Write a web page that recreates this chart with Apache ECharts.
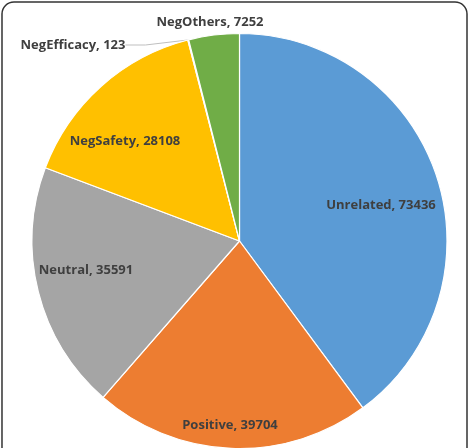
<!DOCTYPE html>
<html>
<head>
<meta charset="utf-8">
<style>
  html, body { margin: 0; padding: 0; background: #fff; }
  #chart { width: 469px; height: 448px; }
</style>
<script src="https://cdn.jsdelivr.net/npm/echarts@6/dist/echarts.min.js"></script>
</head>
<body>
<div id="chart"></div>
<script>
// categories and counts, clockwise from 12 o'clock
var categories = ['Unrelated', 'Positive', 'Neutral', 'NegSafety', 'NegEfficacy', 'NegOthers'];
var counts = [73436, 39704, 35591, 28108, 123, 7252];
var colors = ['#5b9bd5', '#ed7d31', '#a5a5a5', '#ffc000', '#4472c4', '#70ad47'];

// label anchor positions (layout only)
var labelPos = [
    { x: 381, y: 205 },
    { x: 230, y: 425 },
    { x: 86, y: 270 },
    { x: 125, y: 141 },
    { x: 73, y: 45 },
    { x: 210, y: 22 }
];

var chart = echarts.init(document.getElementById('chart'));
chart.setOption({
    animation: false,
    graphic: [{
        type: 'rect',
        shape: { x: 2, y: 2, width: 465, height: 480, r: 12 },
        style: { fill: 'none', stroke: '#333', lineWidth: 1.5 },
        z: 100
    }],
    series: [{
        type: 'pie',
        center: [239.5, 241],
        radius: 207.5,
        startAngle: 90,
        clockwise: true,
        avoidLabelOverlap: false,
        itemStyle: { borderColor: '#fff', borderWidth: 1.2 },
        label: {
            show: true,
            position: 'inside',
            formatter: '{b}, {c}',
            color: '#3f3f3f',
            fontFamily: 'Open Sans',
            fontWeight: 'bold',
            fontSize: 13
        },
        labelLine: { show: false },
        labelLayout: function (params) {
            var p = labelPos[params.dataIndex];
            return { x: p.x, y: p.y, align: 'center', verticalAlign: 'middle' };
        },
        data: categories.map(function (name, i) {
            var d = { name: name, value: counts[i], itemStyle: { color: colors[i] } };
            if (name === 'NegEfficacy') {
                d.label = { position: 'outside' };
                d.labelLine = { show: true, length: 4, length2: 20, lineStyle: { color: '#bfbfbf', width: 1 } };
            }
            if (name === 'NegOthers') {
                d.label = { position: 'outside' };
            }
            return d;
        })
    }]
});
</script>
</body>
</html>
